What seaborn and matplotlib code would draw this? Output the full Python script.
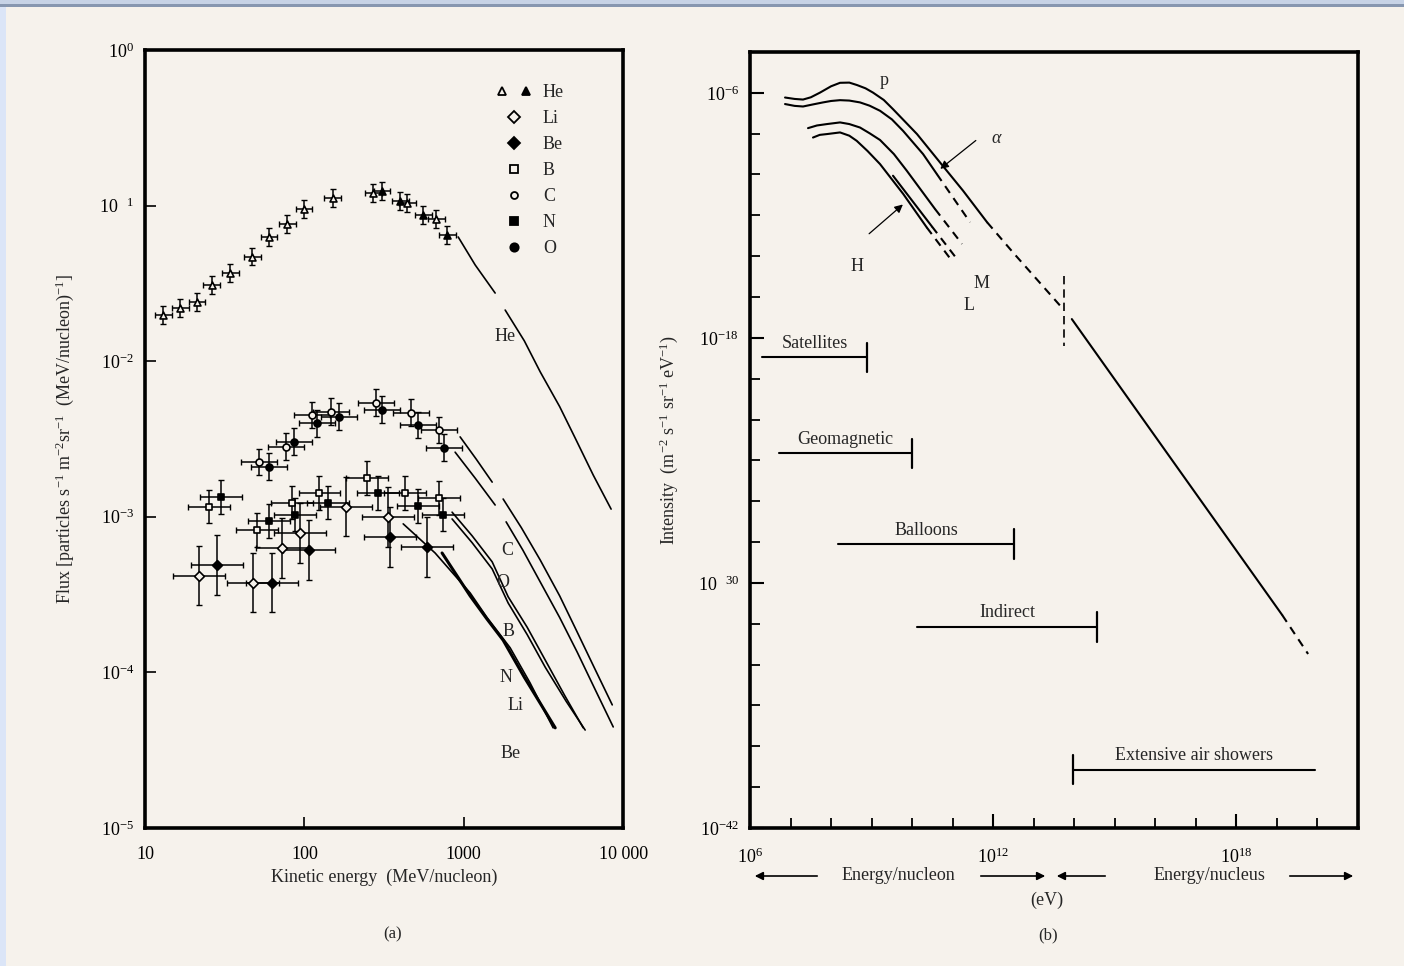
import numpy as np
import pandas as pd
import matplotlib
matplotlib.use("Agg")
import matplotlib.pyplot as plt
import seaborn as sns
from matplotlib.lines import Line2D
from matplotlib.legend_handler import HandlerTuple
from matplotlib.patches import Rectangle, FancyArrowPatch

# ---------------- data: panel (a) ----------------
he_open_E = [13.0, 16.6, 21.2, 26.3, 34.2, 47, 60, 78, 99.5, 151, 270, 441, 671]
he_open_F = [0.0198, 0.022, 0.024, 0.031, 0.037, 0.047, 0.063, 0.076, 0.095, 0.112, 0.12, 0.104, 0.082]
he_fill_E = [307, 400, 556, 787]
he_fill_F = [0.124, 0.107, 0.087, 0.065]

c_E = [52.0, 76.7, 112, 147, 282, 467, 701]
c_F = [2.25e-3, 2.81e-3, 4.51e-3, 4.72e-3, 5.39e-3, 4.65e-3, 3.61e-3]
o_E = [60.0, 86.1, 120, 165, 308, 517, 754]
o_F = [2.09e-3, 3.03e-3, 4.0e-3, 4.38e-3, 4.86e-3, 3.89e-3, 2.77e-3]
b_E = [25.2, 50.5, 83.7, 124, 248, 429, 701]
b_F = [1.16e-3, 8.22e-4, 1.23e-3, 1.42e-3, 1.77e-3, 1.42e-3, 1.32e-3]
n_E = [30.0, 60.0, 87.4, 141, 290, 517, 743]
n_F = [1.34e-3, 9.4e-4, 1.03e-3, 1.23e-3, 1.42e-3, 1.17e-3, 1.03e-3]
li_E = [21.8, 47.6, 72.4, 94.0, 183, 335]
li_F = [4.17e-4, 3.76e-4, 6.3e-4, 7.87e-4, 1.16e-3, 9.97e-4]
be_E = [28.3, 62.7, 107, 345, 589]
be_F = [4.9e-4, 3.76e-4, 6.12e-4, 7.42e-4, 6.4e-4]

# error factors (multiplicative) per series: (x, y)
err_he = (1.13, 1.14)
err_co = (1.30, 1.22)
err_bn = (1.35, 1.28)
err_libe = (1.45, 1.55)

# model curves (segments split where the original line has a gap)
he_c1_E = [923, 1180, 1574]
he_c1_F = [0.0628, 0.0415, 0.0274]
he_c2_E = [1820, 2400, 3020, 4000, 5000, 6500, 8410]
he_c2_F = [0.0213, 0.0135, 0.00853, 0.0051, 0.00321, 0.00185, 0.00112]
c_c1_E = [949, 1196, 1508]
c_c1_F = [3.26e-3, 2.35e-3, 1.67e-3]
c_c2_E = [1767, 2300, 3020, 4000, 5080, 6600, 8550]
c_c2_F = [1.3e-3, 8.5e-4, 5.27e-4, 3.1e-4, 1.87e-4, 1.07e-4, 6.18e-5]
o_c1_E = [883, 1180, 1574]
o_c1_F = [2.6e-3, 1.77e-3, 1.19e-3]
o_c2_E = [1845, 2350, 3020, 4000, 5150, 6700, 8670]
o_c2_F = [9.27e-4, 6.1e-4, 3.81e-4, 2.25e-4, 1.35e-4, 7.7e-5, 4.46e-5]
b_c_E = [845, 1130, 1508, 1900, 2500, 3245, 4300, 5620]
b_c_F = [1.07e-3, 7.53e-4, 5.13e-4, 3.06e-4, 1.95e-4, 1.2e-4, 7.1e-5, 4.4e-5]
li_c_E = [845, 1130, 1508, 1900, 2500, 3245, 4400, 5780]
li_c_F = [9.68e-4, 6.8e-4, 4.62e-4, 2.79e-4, 1.75e-4, 1.08e-4, 6.5e-5, 4.26e-5]
n_c_E = [731, 1097, 1400, 1767, 2400, 3000, 3750]
n_c_F = [5.85e-4, 3.1e-4, 2.2e-4, 1.61e-4, 9.3e-5, 6.4e-5, 4.4e-5]
be_c_E = [417, 661, 1097, 1400, 1954, 2600, 3640]
be_c_F = [9e-4, 5.85e-4, 3.24e-4, 2.25e-4, 1.44e-4, 8.6e-5, 4.4e-5]

curve_labels = ["He", "C", "O", "B", "N", "Li", "Be"]
curve_label_E = [1820, 1870, 1767, 1900, 1845, 2100, 1955]
curve_label_F = [0.0145, 6.03e-4, 3.76e-4, 1.82e-4, 9.2e-5, 6.08e-5, 2.99e-5]

# ---------------- data: panel (b) (log10 values) ----------------
p_solid_lE = [6.864, 7.10, 7.308, 7.50, 7.727, 8.00, 8.221, 8.45, 8.640, 8.85, 9.035, 9.30,
              9.528, 9.80, 10.12, 10.688, 11.255, 11.85]
p_solid_lI = [-6.23, -6.30, -6.33, -6.22, -5.99, -5.68, -5.51, -5.50, -5.62, -5.78, -5.99, -6.35,
              -6.80, -7.36, -8.02, -9.41, -10.79, -12.34]
p_dash_lE = [11.85, 12.49, 13.65]
p_dash_lI = [-12.34, -13.82, -16.42]
all_solid_lE = [13.94, 19.13]
all_solid_lI = [-17.08, -31.57]
all_dash_lE = [19.13, 19.77]
all_dash_lI = [-31.57, -33.48]

a_solid_lE = [6.864, 7.10, 7.308, 7.55, 7.801, 8.00, 8.221, 8.45, 8.714, 8.95, 9.208, 9.50,
              9.775, 10.27, 10.61]
a_solid_lI = [-6.55, -6.64, -6.67, -6.57, -6.47, -6.40, -6.36, -6.38, -6.47, -6.63, -6.88, -7.30,
              -7.86, -9.00, -9.98]
a_dash_lE = [10.61, 11.43]
a_dash_lI = [-9.98, -12.34]

m_solid_lE = [7.431, 7.65, 7.90, 8.221, 8.45, 8.714, 8.95, 9.208, 9.55, 9.866, 10.565]
m_solid_lI = [-7.73, -7.60, -7.53, -7.45, -7.53, -7.70, -7.98, -8.31, -9.00, -9.81, -11.69]
m_dash_lE = [10.565, 11.23]
m_dash_lI = [-11.69, -13.40]

l_solid_lE = [7.554, 7.72, 7.90, 8.221, 8.45, 8.632, 8.90, 9.208, 9.783, 10.36]
l_solid_lI = [-8.19, -8.06, -8.02, -7.94, -8.10, -8.35, -8.85, -9.49, -10.96, -12.59]
l_dash_lE = [10.36, 11.009]
l_dash_lI = [-12.59, -14.30]

h_solid_lE = [9.528, 10.49]
h_solid_lI = [-10.06, -12.55]
h_dash_lE = [10.49, 11.06]
h_dash_lI = [-12.55, -14.02]

knee_lE = 13.75
knee_lI = (-14.95, -18.42)

ranges = pd.DataFrame({
    "name": ["Satellites", "Geomagnetic", "Balloons", "Indirect", "Extensive air showers"],
    "lE_lo": [6.296, 6.716, 8.171, 10.12, 13.97],
    "lE_hi": [8.887, 9.997, 12.51, 14.56, 19.94],
    "lI": [-18.96, -23.65, -28.10, -32.16, -39.15],
    "end": ["hi", "hi", "hi", "hi", "lo"],
})

spec_labels = ["p", "α", "H", "M", "L"]
spec_label_lE = [9.31, 12.07, 8.64, 11.70, 11.40]
spec_label_lI = [-5.41, -8.25, -14.5, -15.34, -16.42]

# ---------------- style ----------------
BG = "#f6f2ec"
sns.set_theme(style="ticks")
plt.rcParams["font.family"] = ["Liberation Serif", "DejaVu Serif"]
plt.rcParams["mathtext.fontset"] = "custom"
plt.rcParams["mathtext.rm"] = "Liberation Serif"
plt.rcParams["mathtext.it"] = "Liberation Serif:italic"
plt.rcParams["mathtext.bf"] = "Liberation Serif:bold"
plt.rcParams["axes.facecolor"] = BG
plt.rcParams["figure.facecolor"] = BG

fig = plt.figure(figsize=(14.04, 9.66), dpi=100)
# screenshot frame
fig.add_artist(Rectangle((0, 0.994), 1, 0.006, transform=fig.transFigure, color="#c7d3e6", lw=0))
fig.add_artist(Rectangle((0, 0.9925), 1, 0.003, transform=fig.transFigure, color="#8797b0", lw=0))
fig.add_artist(Rectangle((0, 0), 0.0045, 0.993, transform=fig.transFigure, color="#dbe5f7", lw=0))

axA = fig.add_axes([0.1033, 0.1429, 0.3405, 0.8054])
axB = fig.add_axes([0.5342, 0.1429, 0.4330, 0.8033])

K = "black"


def logerr(v, f):
    v = np.asarray(v, dtype=float)
    return np.vstack([v - v / f, v * f - v])


def pts(ax, E, F, err, marker, filled, ms=5.5):
    ax.errorbar(E, F, xerr=logerr(E, err[0]), yerr=logerr(F, err[1]), fmt="none",
                ecolor=K, elinewidth=1.1, capsize=2, capthick=1.0, zorder=3)
    sns.scatterplot(x=E, y=F, ax=ax, marker=marker, s=ms ** 2,
                    facecolor=K if filled else BG, edgecolor=K, linewidth=1.2, zorder=4)


def line(ax, x, y, lw=1.3, ls="-"):
    sns.lineplot(x=x, y=y, ax=ax, color=K, lw=lw, linestyle=ls, estimator=None, sort=False)


# ---------------- panel (a) ----------------
ax = axA
ax.set_xscale("log")
ax.set_yscale("log")
ax.set_xlim(10, 10000)
ax.set_ylim(1e-5, 1)

pts(ax, he_open_E, he_open_F, err_he, "^", False, 5)
pts(ax, he_fill_E, he_fill_F, err_he, "^", True, 5)
pts(ax, c_E, c_F, err_co, "o", False, 5)
pts(ax, o_E, o_F, err_co, "o", True, 5)
pts(ax, b_E, b_F, err_bn, "s", False, 5)
pts(ax, n_E, n_F, err_bn, "s", True, 5)
pts(ax, li_E, li_F, err_libe, "D", False, 5)
pts(ax, be_E, be_F, err_libe, "D", True, 5)

for xs, ys in [(he_c1_E, he_c1_F), (he_c2_E, he_c2_F), (c_c1_E, c_c1_F), (c_c2_E, c_c2_F),
               (o_c1_E, o_c1_F), (o_c2_E, o_c2_F), (b_c_E, b_c_F), (li_c_E, li_c_F),
               (be_c_E, be_c_F)]:
    line(ax, xs, ys, lw=1.2)
line(ax, n_c_E, n_c_F, lw=2.2)

for t, xv, yv in zip(curve_labels, curve_label_E, curve_label_F):
    ax.text(xv, yv, t, fontsize=13, ha="center", va="center", zorder=5)

ax.set_xticks([10, 100, 1000, 10000])
ax.set_xticklabels(["10", "100", "1000", "10 000"])
ax.set_yticks([1, 1e-1, 1e-2, 1e-3, 1e-4, 1e-5])
ax.set_yticklabels([r"$10^{0}$", r"10  $^{1}$", r"$10^{-2}$", r"$10^{-3}$", r"$10^{-4}$", r"$10^{-5}$"])
ax.minorticks_off()
ax.tick_params(direction="in", length=8, width=1.2, labelsize=13, colors=K, pad=8)
ax.tick_params(axis="x", pad=13)
ax.set_xlabel("Kinetic energy  (MeV/nucleon)", fontsize=13, labelpad=4)
ax.set_ylabel(r"Flux [particles s$^{-1}$ m$^{-2}$sr$^{-1}$  (MeV/nucleon)$^{-1}$]", fontsize=13, labelpad=17)

h_he = (Line2D([], [], marker="^", ls="none", mfc=BG, mec=K, ms=6, mew=1.3),
        Line2D([], [], marker="^", ls="none", mfc=K, mec=K, ms=6, mew=1.3))
handles = [h_he,
           Line2D([], [], marker="D", ls="none", mfc=BG, mec=K, ms=6, mew=1.3),
           Line2D([], [], marker="D", ls="none", mfc=K, mec=K, ms=6, mew=1.3),
           Line2D([], [], marker="s", ls="none", mfc=BG, mec=K, ms=6, mew=1.3),
           Line2D([], [], marker="o", ls="none", mfc=BG, mec=K, ms=5, mew=1.3),
           Line2D([], [], marker="s", ls="none", mfc=K, mec=K, ms=6, mew=1.3),
           Line2D([], [], marker="o", ls="none", mfc=K, mec=K, ms=6, mew=1.3)]
leg = ax.legend(handles, ["He", "Li", "Be", "B", "C", "N", "O"],
                handler_map={tuple: HandlerTuple(ndivide=None, pad=0.6)},
                loc="upper left", bbox_to_anchor=(0.70, 0.977), frameon=False,
                fontsize=13, handlelength=2.0, handletextpad=0.6, labelspacing=0.5)

# ---------------- panel (b) ----------------
ax = axB
ax.set_xscale("log")
ax.set_yscale("log")
ax.set_xlim(1e6, 1e21)
ax.set_ylim(1e-42, 1e-4)

P = lambda a: 10.0 ** np.asarray(a)
for xs, ys in [(p_solid_lE, p_solid_lI), (all_solid_lE, all_solid_lI), (a_solid_lE, a_solid_lI),
               (m_solid_lE, m_solid_lI), (l_solid_lE, l_solid_lI), (h_solid_lE, h_solid_lI)]:
    line(ax, P(xs), P(ys), lw=1.5)
for xs, ys in [(p_dash_lE, p_dash_lI), (all_dash_lE, all_dash_lI), (a_dash_lE, a_dash_lI),
               (m_dash_lE, m_dash_lI), (l_dash_lE, l_dash_lI), (h_dash_lE, h_dash_lI)]:
    ax.plot(P(xs), P(ys), color=K, lw=1.5, dashes=(4, 3))
ax.plot([P(knee_lE)] * 2, P(knee_lI), color=K, lw=1.2, dashes=(5, 3))

for _, r in ranges.iterrows():
    ax.plot([P(r.lE_lo), P(r.lE_hi)], [P(r.lI), P(r.lI)], color=K, lw=1.5)
    xe = P(r.lE_hi) if r.end == "hi" else P(r.lE_lo)
    ax.plot([xe, xe], [P(r.lI + 0.72), P(r.lI - 0.72)], color=K, lw=1.6)
    ax.annotate(r["name"], (P((r.lE_lo + r.lE_hi) / 2), P(r.lI)), xytext=(0, 4),
                textcoords="offset points", ha="center", va="bottom", fontsize=13)

for t, xv, yv in zip(spec_labels, spec_label_lE, spec_label_lI):
    ax.text(P(xv), P(yv), t, fontsize=13, ha="center", va="center",
            style="italic" if t == "α" else "normal")

ax.annotate("", xy=(P(10.64), P(-9.81)), xytext=(P(11.625), P(-8.25)),
            arrowprops=dict(arrowstyle="-|>", color=K, lw=0.9, mutation_scale=12))
ax.annotate("", xy=(P(9.824), P(-11.38)), xytext=(P(8.887), P(-12.99)),
            arrowprops=dict(arrowstyle="-|>", color=K, lw=0.9, mutation_scale=12))

ax.set_yticks(P([-6, -18, -30, -42]))
ax.set_yticklabels([r"$10^{-6}$", r"$10^{-18}$", r"10  $^{30}$", r"$10^{-42}$"])
ax.set_yticks(P(list(range(-8, -17, -2)) + list(range(-20, -29, -2)) + list(range(-32, -41, -2))), minor=True)
ax.set_xticks(P([6, 12, 18]))
ax.set_xticklabels([r"$10^{6}$", r"$10^{12}$", r"$10^{18}$"])
ax.set_xticks(P([7, 8, 9, 10, 11, 13, 14, 15, 16, 17, 19, 20]), minor=True)
ax.yaxis.set_minor_formatter(matplotlib.ticker.NullFormatter())
ax.xaxis.set_minor_formatter(matplotlib.ticker.NullFormatter())
ax.tick_params(which="major", direction="in", length=10, width=1.5, labelsize=13, colors=K, pad=8)
ax.tick_params(which="major", axis="x", pad=14)
ax.tick_params(which="minor", direction="in", length=7, width=1.3, colors=K)
ax.set_ylabel(r"Intensity  (m$^{-2}$ s$^{-1}$ sr$^{-1}$ eV$^{-1}$)", fontsize=13, labelpad=13)

for a in (axA, axB):
    for s in a.spines.values():
        s.set_linewidth(2.6)
        s.set_color(K)

# bottom arrows under panel (b)
yA = 1 - 876 / 966
W = 1404


def farrow(x_from, x_to):
    fig.add_artist(FancyArrowPatch((x_from / W, yA), (x_to / W, yA),
                   transform=fig.transFigure, arrowstyle="-|>", mutation_scale=12, lw=1.2, color=K))


farrow(820, 752)
farrow(978, 1048)
farrow(1108, 1054)
farrow(1287, 1356)
fig.text(898 / W, yA, "Energy/nucleon", fontsize=13, ha="center", va="center")
fig.text(1209 / W, yA, "Energy/nucleus", fontsize=13, ha="center", va="center")
fig.text(1047 / W, 1 - 900 / 966, "(eV)", fontsize=13, ha="center", va="center")
fig.text(393 / W, 1 - 934 / 966, "(a)", fontsize=12, ha="center", va="center")
fig.text(1048 / W, 1 - 935 / 966, "(b)", fontsize=12, ha="center", va="center")

fig.savefig("out.png", dpi=100, facecolor=BG)
